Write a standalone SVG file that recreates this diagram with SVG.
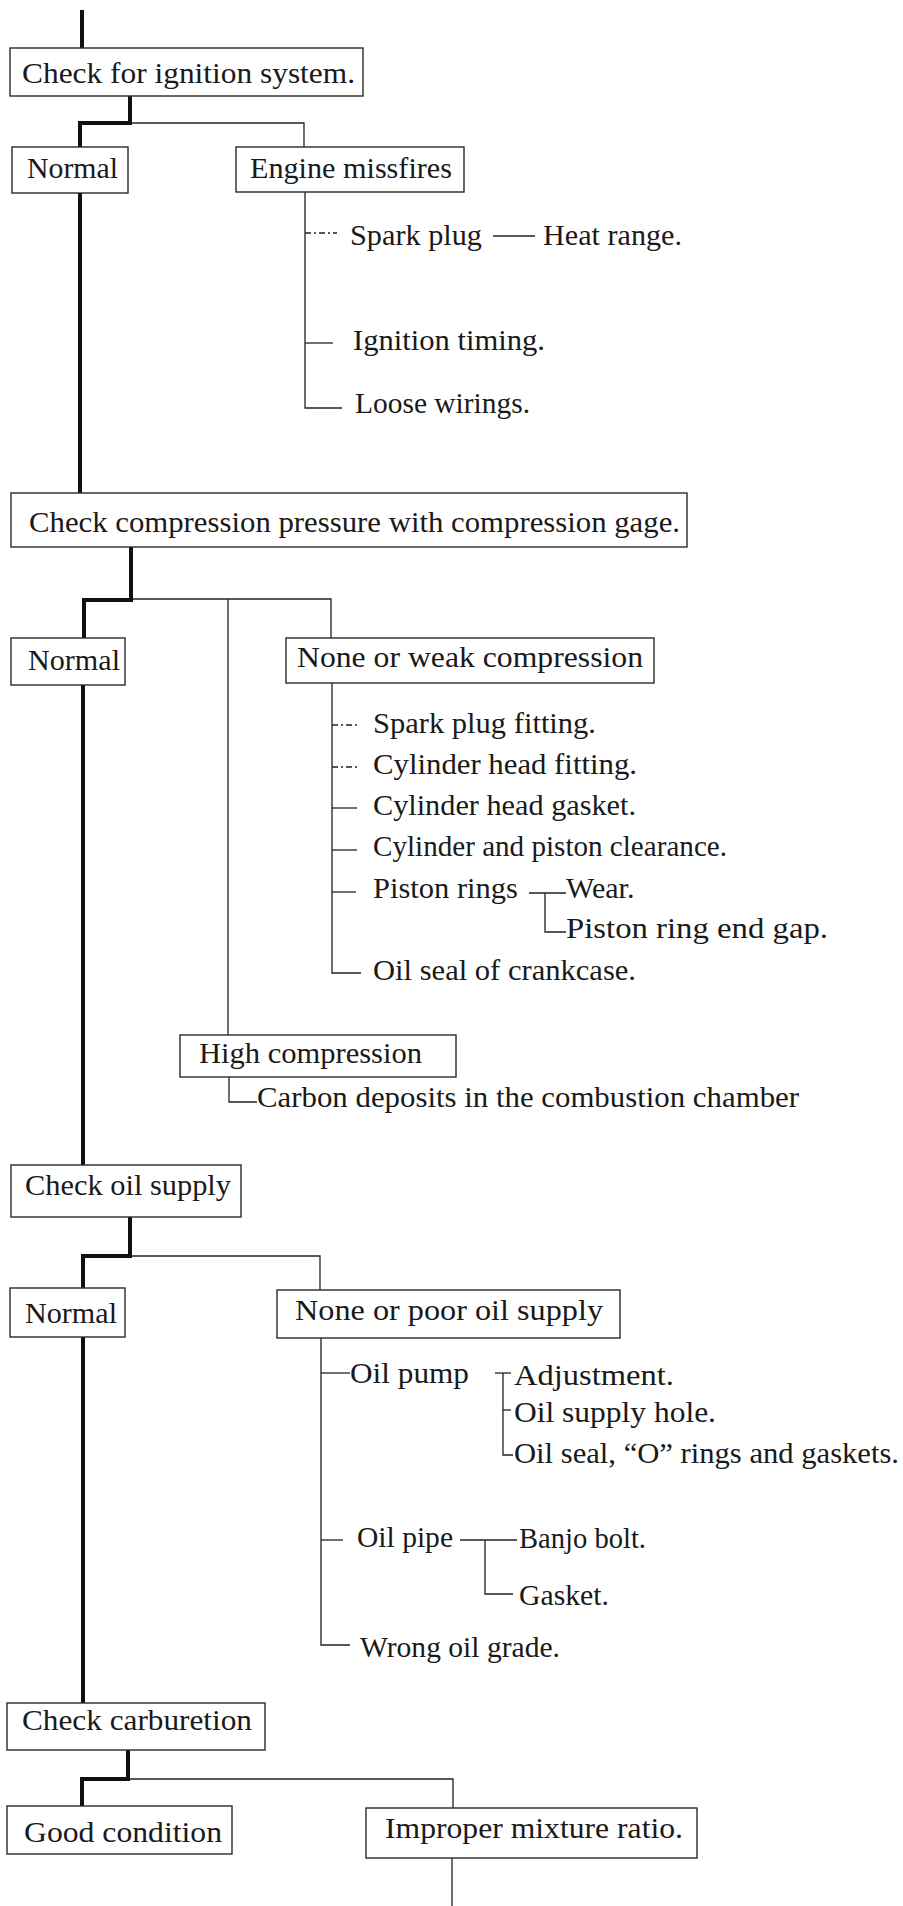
<svg xmlns="http://www.w3.org/2000/svg" width="903" height="1906" viewBox="0 0 903 1906">
  <style>
    .box { fill: #ffffff; stroke: #2a2a2a; stroke-width: 1.4; }
    .main { fill: none; stroke: #111111; stroke-width: 4; stroke-linejoin: miter; }
    .link { fill: none; stroke: #222222; stroke-width: 1.3; }
    .dash { fill: none; stroke: #222222; stroke-width: 1.3; stroke-dasharray: 6 3 2 3; }
    .lbl { font-family: "Liberation Serif", "Times New Roman", serif; font-size: 30px; fill: #1a1a1a; }
  </style>
  <rect x="0" y="0" width="903" height="1906" fill="#ffffff"/>

  <!-- connectors: thick main path and thin branches -->
  <g id="connectors">
    <path class="main" d="M82 10 V48"/>
    <path class="main" d="M130 96 V123 H80 V147"/>
    <path class="main" d="M80 193 V493"/>
    <path class="main" d="M131 547 V600 H84 V638"/>
    <path class="main" d="M83 685 V1165"/>
    <path class="main" d="M130 1217 V1256 H83 V1288"/>
    <path class="main" d="M83 1337 V1703"/>
    <path class="main" d="M128 1750 V1779 H82 V1806"/>

    <!-- ignition branch -->
    <path class="link" d="M132 123 H304 V147"/>
    <path class="link" d="M305 192 V408 H342"/>
    <path class="dash" d="M305 233 H337"/>
    <path class="link" d="M305 343 H333"/>
    <path class="link" d="M493 236 H535"/>

    <!-- compression branch -->
    <path class="link" d="M133 599 H331 V638"/>
    <path class="link" d="M228 599 V1035"/>
    <path class="link" d="M332 683 V973 H361"/>
    <path class="dash" d="M332 725 H357"/>
    <path class="dash" d="M332 767 H357"/>
    <path class="link" d="M332 808 H357"/>
    <path class="link" d="M332 850 H357"/>
    <path class="link" d="M332 892 H356"/>
    <path class="link" d="M529 893 H566"/>
    <path class="link" d="M545 893 V932 H566"/>
    <path class="link" d="M229 1077 V1102 H257"/>

    <!-- oil supply branch -->
    <path class="link" d="M132 1256 H320 V1290"/>
    <path class="link" d="M321 1338 V1645 H350"/>
    <path class="link" d="M321 1373 H350"/>
    <path class="link" d="M321 1540 H343"/>
    <path class="link" d="M495 1373 H511"/>
    <path class="link" d="M503 1373 V1455 H513"/>
    <path class="link" d="M503 1410 H511"/>
    <path class="link" d="M460 1540 H517"/>
    <path class="link" d="M485 1540 V1594 H513"/>

    <!-- carburetion branch -->
    <path class="link" d="M130 1779 H453 V1808"/>
    <path class="link" d="M452 1858 V1906"/>
  </g>

  <g id="check-ignition">
    <rect class="box" x="10" y="48" width="353" height="48"/>
    <text class="lbl" x="22" y="83" textLength="333" lengthAdjust="spacingAndGlyphs">Check for ignition system.</text>
  </g>
  <g id="ignition-normal">
    <rect class="box" x="12" y="147" width="116" height="46"/>
    <text class="lbl" x="27" y="178" textLength="91" lengthAdjust="spacingAndGlyphs">Normal</text>
  </g>
  <g id="engine-missfires">
    <rect class="box" x="236" y="147" width="228" height="45"/>
    <text class="lbl" x="250" y="178" textLength="202" lengthAdjust="spacingAndGlyphs">Engine missfires</text>
  </g>
  <g id="spark-plug">
    <text class="lbl" x="350" y="245" textLength="132" lengthAdjust="spacingAndGlyphs">Spark plug</text>
  </g>
  <g id="heat-range">
    <text class="lbl" x="543" y="245" textLength="139" lengthAdjust="spacingAndGlyphs">Heat range.</text>
  </g>
  <g id="ignition-timing">
    <text class="lbl" x="353" y="350" textLength="192" lengthAdjust="spacingAndGlyphs">Ignition timing.</text>
  </g>
  <g id="loose-wirings">
    <text class="lbl" x="355" y="413" textLength="175" lengthAdjust="spacingAndGlyphs">Loose wirings.</text>
  </g>

  <g id="check-compression">
    <rect class="box" x="11" y="493" width="676" height="54"/>
    <text class="lbl" x="29" y="532" textLength="651" lengthAdjust="spacingAndGlyphs">Check compression pressure with compression gage.</text>
  </g>
  <g id="compression-normal">
    <rect class="box" x="11" y="638" width="114" height="47"/>
    <text class="lbl" x="28" y="670" textLength="92" lengthAdjust="spacingAndGlyphs">Normal</text>
  </g>
  <g id="weak-compression">
    <rect class="box" x="286" y="638" width="368" height="45"/>
    <text class="lbl" x="297" y="667" textLength="346" lengthAdjust="spacingAndGlyphs">None or weak compression</text>
  </g>
  <g id="spark-plug-fitting">
    <text class="lbl" x="373" y="733" textLength="223" lengthAdjust="spacingAndGlyphs">Spark plug fitting.</text>
  </g>
  <g id="head-fitting">
    <text class="lbl" x="373" y="774" textLength="264" lengthAdjust="spacingAndGlyphs">Cylinder head fitting.</text>
  </g>
  <g id="head-gasket">
    <text class="lbl" x="373" y="815" textLength="263" lengthAdjust="spacingAndGlyphs">Cylinder head gasket.</text>
  </g>
  <g id="piston-clearance">
    <text class="lbl" x="373" y="856" textLength="354" lengthAdjust="spacingAndGlyphs">Cylinder and piston clearance.</text>
  </g>
  <g id="piston-rings">
    <text class="lbl" x="373" y="898" textLength="145" lengthAdjust="spacingAndGlyphs">Piston rings</text>
  </g>
  <g id="ring-wear">
    <text class="lbl" x="566" y="898">Wear.</text>
  </g>
  <g id="ring-gap">
    <text class="lbl" x="566" y="938" textLength="262" lengthAdjust="spacingAndGlyphs">Piston ring end gap.</text>
  </g>
  <g id="crankcase-seal">
    <text class="lbl" x="373" y="980" textLength="263" lengthAdjust="spacingAndGlyphs">Oil seal of crankcase.</text>
  </g>
  <g id="high-compression">
    <rect class="box" x="180" y="1035" width="276" height="42"/>
    <text class="lbl" x="199" y="1063" textLength="223" lengthAdjust="spacingAndGlyphs">High compression</text>
  </g>
  <g id="carbon-deposits">
    <text class="lbl" x="257" y="1107" textLength="542" lengthAdjust="spacingAndGlyphs">Carbon deposits in the combustion chamber</text>
  </g>

  <g id="check-oil">
    <rect class="box" x="11" y="1165" width="230" height="52"/>
    <text class="lbl" x="25" y="1195" textLength="206" lengthAdjust="spacingAndGlyphs">Check oil supply</text>
  </g>
  <g id="oil-normal">
    <rect class="box" x="10" y="1288" width="115" height="49"/>
    <text class="lbl" x="25" y="1323" textLength="92" lengthAdjust="spacingAndGlyphs">Normal</text>
  </g>
  <g id="poor-oil">
    <rect class="box" x="277" y="1290" width="343" height="48"/>
    <text class="lbl" x="295" y="1320" textLength="308" lengthAdjust="spacingAndGlyphs">None or poor oil supply</text>
  </g>
  <g id="oil-pump">
    <text class="lbl" x="350" y="1383" textLength="119" lengthAdjust="spacingAndGlyphs">Oil pump</text>
  </g>
  <g id="pump-adjustment">
    <text class="lbl" x="514" y="1385" textLength="160" lengthAdjust="spacingAndGlyphs">Adjustment.</text>
  </g>
  <g id="pump-hole">
    <text class="lbl" x="514" y="1422" textLength="202" lengthAdjust="spacingAndGlyphs">Oil supply hole.</text>
  </g>
  <g id="pump-seals">
    <text class="lbl" x="514" y="1463" textLength="385" lengthAdjust="spacingAndGlyphs">Oil seal, “O” rings and gaskets.</text>
  </g>
  <g id="oil-pipe">
    <text class="lbl" x="357" y="1547" textLength="96" lengthAdjust="spacingAndGlyphs">Oil pipe</text>
  </g>
  <g id="banjo-bolt">
    <text class="lbl" x="519" y="1548" textLength="127" lengthAdjust="spacingAndGlyphs">Banjo bolt.</text>
  </g>
  <g id="pipe-gasket">
    <text class="lbl" x="519" y="1605" textLength="90" lengthAdjust="spacingAndGlyphs">Gasket.</text>
  </g>
  <g id="oil-grade">
    <text class="lbl" x="360" y="1657" textLength="200" lengthAdjust="spacingAndGlyphs">Wrong oil grade.</text>
  </g>

  <g id="check-carburetion">
    <rect class="box" x="7" y="1703" width="258" height="47"/>
    <text class="lbl" x="22" y="1730" textLength="230" lengthAdjust="spacingAndGlyphs">Check carburetion</text>
  </g>
  <g id="good-condition">
    <rect class="box" x="7" y="1806" width="225" height="48"/>
    <text class="lbl" x="24" y="1842" textLength="198" lengthAdjust="spacingAndGlyphs">Good condition</text>
  </g>
  <g id="improper-mixture">
    <rect class="box" x="366" y="1808" width="331" height="50"/>
    <text class="lbl" x="385" y="1838" textLength="298" lengthAdjust="spacingAndGlyphs">Improper mixture ratio.</text>
  </g>
</svg>
